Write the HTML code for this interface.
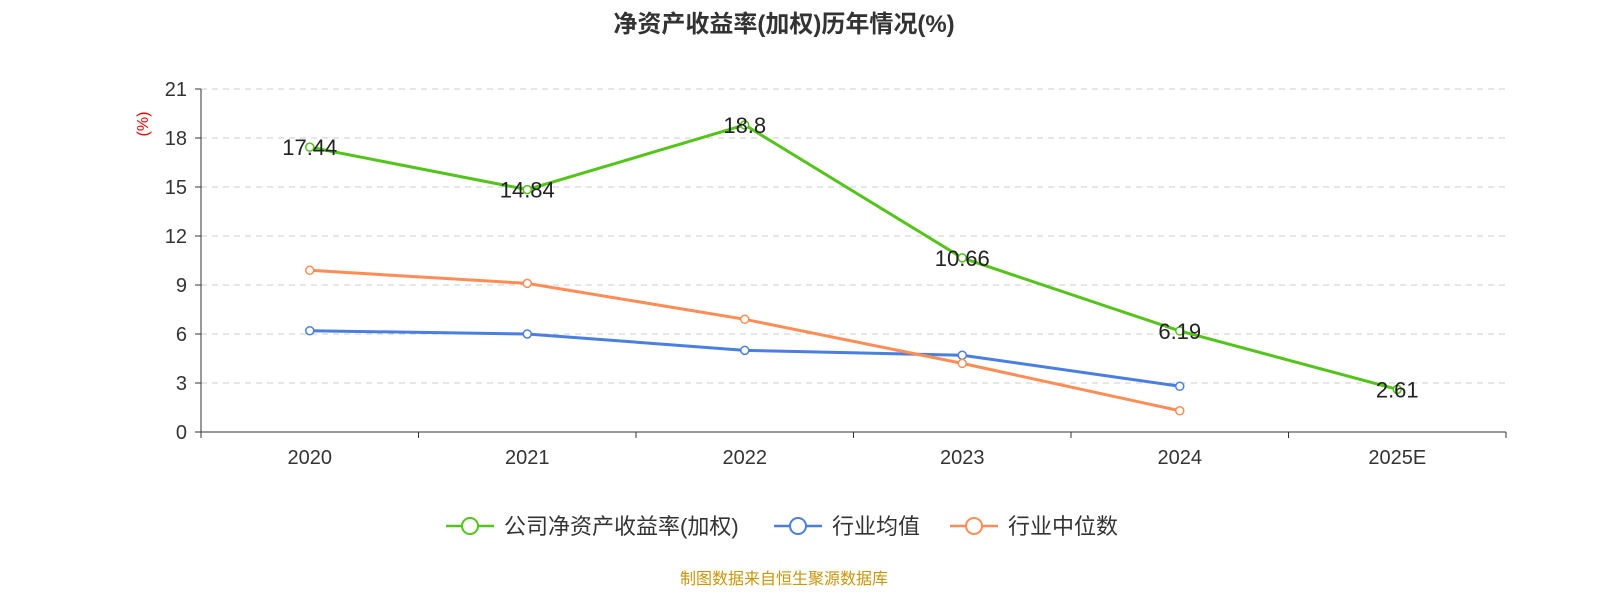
<!DOCTYPE html>
<html><head><meta charset="utf-8">
<style>
html,body{margin:0;padding:0;background:#fff;}
svg text{font-family:"Liberation Sans","Noto Sans CJK SC",sans-serif;}
</style></head>
<body>
<svg id="chart" width="1600" height="600" xmlns="http://www.w3.org/2000/svg">
<text x="784" y="32" text-anchor="middle" font-size="24" font-weight="bold" fill="#333">净资产收益率(加权)历年情况(%)</text>
<text x="148" y="124" font-size="16" fill="#e00" transform="rotate(-90 148 124)" text-anchor="middle">(%)</text>
<g id="grid"></g><g id="axes"></g><g id="series"></g>
<g>
 <g>
  <line x1="446" y1="526" x2="494" y2="526" stroke="#52c41a" stroke-width="2.5"/><circle cx="470" cy="526" r="8" fill="#fff" stroke="#52c41a" stroke-width="2"/>
  <text x="504" y="534" font-size="22" fill="#333">公司净资产收益率(加权)</text></g>
 <g>
  <line x1="774" y1="526" x2="822" y2="526" stroke="#4a7ee0" stroke-width="2.5"/><circle cx="798" cy="526" r="8" fill="#fff" stroke="#4a7ee0" stroke-width="2"/>
  <text x="832" y="534" font-size="22" fill="#333">行业均值</text></g>
 <g>
  <line x1="950" y1="526" x2="998" y2="526" stroke="#ff8c55" stroke-width="2.5"/><circle cx="974" cy="526" r="8" fill="#fff" stroke="#ff8c55" stroke-width="2"/>
  <text x="1008" y="534" font-size="22" fill="#333">行业中位数</text></g>
</g>
<text x="784" y="584" text-anchor="middle" font-size="16" fill="#c8960a">制图数据来自恒生聚源数据库</text>
</svg>
<script>
const categories=["2020","2021","2022","2023","2024","2025E"];
const companyValues=[17.44,14.84,18.8,10.66,6.19,2.61];
const industryAvg=[6.2,6.0,5.0,4.7,2.8];
const industryMedian=[9.9,9.1,6.9,4.2,1.3];
const yTicks=[0,3,6,9,12,15,18,21];
const NS="http://www.w3.org/2000/svg";
const x0=201,x1=1506,y0=432,y1=89,yMax=21;
const bw=(x1-x0)/categories.length;
const xs=i=>x0+bw*(i+0.5);
const ys=v=>y0-(v/yMax)*(y0-y1);
function mk(tag,attrs,parent,txt){const e=document.createElementNS(NS,tag);for(const k in attrs)e.setAttribute(k,attrs[k]);if(txt!==undefined)e.textContent=txt;document.getElementById(parent).appendChild(e);return e;}
yTicks.forEach(t=>{
 if(t>0){const g=mk('line',{x1:x0,x2:x1,y1:ys(t),y2:ys(t),stroke:'#ccc','stroke-dasharray':'6,5'},'grid');
 
 }
 const l=mk('text',{x:x0-14,y:ys(t)+7,'text-anchor':'end','font-size':20,fill:'#333'},'axes',t);
 
 
 mk('line',{x1:x0-6,x2:x0,y1:ys(t),y2:ys(t),stroke:'#333'},'axes');
});
mk('line',{x1:x0,x2:x0,y1:y1,y2:y0,stroke:'#333'},'axes');
mk('line',{x1:x0,x2:x1,y1:y0,y2:y0,stroke:'#333'},'axes');
for(let i=0;i<=categories.length;i++)mk('line',{x1:x0+bw*i,x2:x0+bw*i,y1:y0,y2:y0+6,stroke:'#333'},'axes');
categories.forEach((c,i)=>{const l=mk('text',{x:xs(i),y:y0+32,'text-anchor':'middle','font-size':20,fill:'#333'},'axes',c);
 
 });
function series(vals,color,name,labels){
 const p=mk('polyline',{points:vals.map((v,i)=>xs(i)+','+ys(v)).join(' '),fill:'none',stroke:color,'stroke-width':3},'series');
 
 
 vals.forEach((v,i)=>{const c=mk('circle',{cx:xs(i),cy:ys(v),r:4,fill:'#fff',stroke:color,'stroke-width':1.5},'series');
  
  
  if(labels){const t=mk('text',{x:xs(i),y:ys(v)+8,'text-anchor':'middle','font-size':22,fill:'#222'},'series',v);
   
   }});
}
series(industryAvg,'#4a7ee0','industry-avg',false);
series(industryMedian,'#ff8c55','industry-median',false);
series(companyValues,'#52c41a','company-roe',true);
</script>
</body></html>
